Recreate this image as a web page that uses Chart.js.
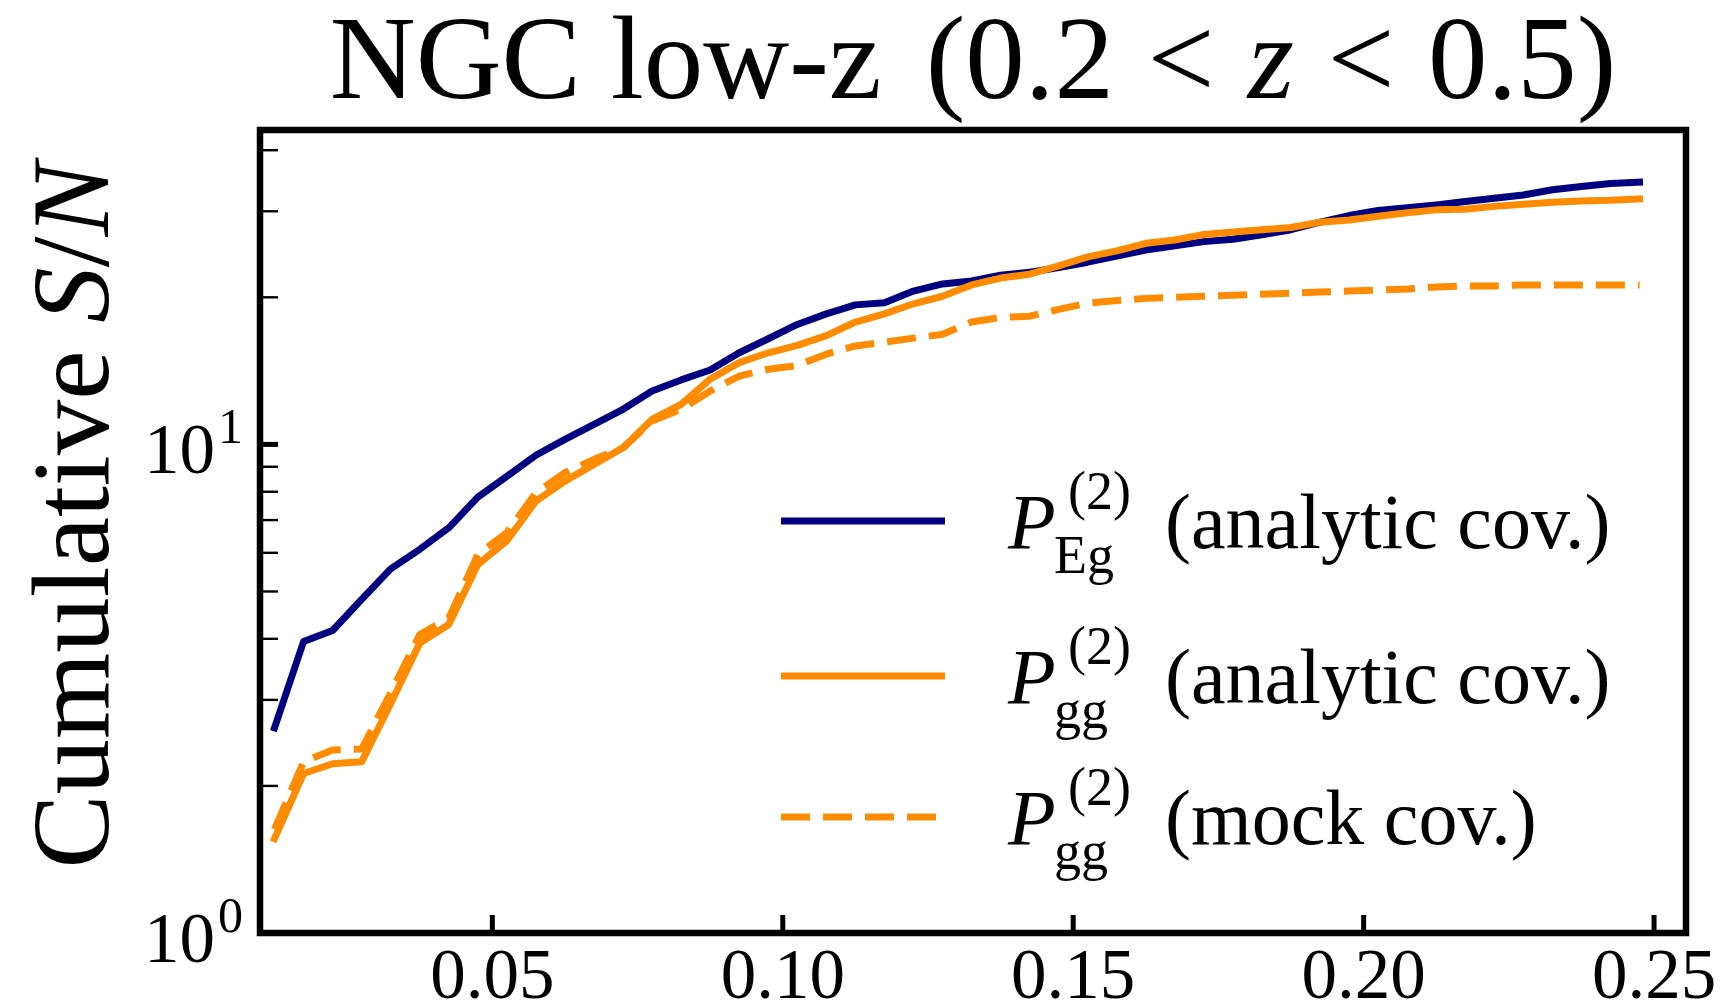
<!DOCTYPE html>
<html>
<head>
<meta charset="utf-8">
<script src="https://cdn.jsdelivr.net/npm/chart.js@4.4.1/dist/chart.umd.min.js"></script>
<style>
html, body { margin: 0; padding: 0; background: #fff; }
#wrap { width: 1727px; height: 1008px; }
</style>
</head>
<body>
<div id="wrap"><canvas id="c" width="1727" height="1008"></canvas></div>
<script>
// k bins (h/Mpc)
const kValues = [0.0125, 0.0175, 0.0225, 0.0275, 0.0325, 0.0375, 0.0425, 0.0475, 0.0525, 0.0575,
    0.0625, 0.0675, 0.0725, 0.0775, 0.0825, 0.0875, 0.0925, 0.0975, 0.1025, 0.1075,
    0.1125, 0.1175, 0.1225, 0.1275, 0.1325, 0.1375, 0.1425, 0.1475, 0.1525, 0.1575,
    0.1625, 0.1675, 0.1725, 0.1775, 0.1825, 0.1875, 0.1925, 0.1975, 0.2025, 0.2075,
    0.2125, 0.2175, 0.2225, 0.2275, 0.2325, 0.2375, 0.2425, 0.2475];

// cumulative S/N
const snEgAnalytic = [2.63, 3.95, 4.16, 4.82, 5.56, 6.1, 6.75, 7.8, 8.6, 9.5,
    10.24, 10.99, 11.8, 12.86, 13.55, 14.2, 15.4, 16.45, 17.6, 18.5,
    19.3, 19.5, 20.6, 21.3, 21.6, 22.2, 22.5, 23.0, 23.6, 24.3,
    25.0, 25.5, 26.0, 26.3, 26.85, 27.5, 28.5, 29.4, 30.1, 30.5,
    30.9, 31.4, 31.9, 32.4, 33.2, 33.7, 34.2, 34.4];
const snGgAnalytic = [1.56, 2.12, 2.22, 2.24, 2.95, 3.92, 4.28, 5.68, 6.35, 7.65,
    8.41, 9.1, 9.84, 11.25, 12.08, 13.6, 14.7, 15.4, 15.95, 16.7,
    17.8, 18.5, 19.4, 20.1, 21.2, 21.9, 22.3, 23.2, 24.2, 24.9,
    25.8, 26.2, 26.9, 27.2, 27.5, 27.8, 28.5, 28.8, 29.3, 29.8,
    30.2, 30.3, 30.7, 31.0, 31.3, 31.5, 31.6, 31.8];
const snGgMock = [1.63, 2.24, 2.37, 2.38, 3.1, 4.08, 4.41, 5.95, 6.6, 7.96,
    8.75, 9.32, 9.84, 11.16, 11.8, 12.86, 13.8, 14.25, 14.5, 15.3,
    15.9, 16.2, 16.5, 16.8, 17.8, 18.2, 18.3, 18.9, 19.45, 19.7,
    19.9, 20.0, 20.1, 20.2, 20.3, 20.4, 20.5, 20.6, 20.7, 20.8,
    21.0, 21.1, 21.1, 21.2, 21.2, 21.2, 21.2, 21.2];

const xTicks = [0.05, 0.10, 0.15, 0.20, 0.25];
const yMajorTicks = [1, 10];
const yMinorTicks = [2, 3, 4, 5, 6, 7, 8, 9, 20, 30, 40];

const legendRows = [
    { sub: 'Eg', text: '(analytic cov.)', color: '#000080', dash: [] },
    { sub: 'gg', text: '(analytic cov.)', color: '#ff8c00', dash: [] },
    { sub: 'gg', text: '(mock cov.)', color: '#ff8c00', dash: [29, 13] }
];

const SERIF = '"Liberation Serif"';
const font = (size, italic) => (italic ? 'italic ' : '') + size + 'px ' + SERIF;
const LW = 7;

function toPoints(vals) {
    return kValues.map((k, i) => ({ x: k, y: vals[i] }));
}

// text runs with mixed upright / italic
function runsWidth(ctx, runs) {
    let w = 0;
    runs.forEach(r => {
        if (r.gap) { w += r.gap; return; }
        ctx.font = r.f; w += ctx.measureText(r.t).width;
    });
    return w;
}
function drawRuns(ctx, runs, x, y) {
    runs.forEach(r => {
        if (r.gap) { x += r.gap; return; }
        ctx.font = r.f;
        ctx.fillText(r.t, x, y);
        x += ctx.measureText(r.t).width;
    });
    return x;
}

function seg(ctx, x1, y1, x2, y2) {
    ctx.beginPath(); ctx.moveTo(x1, y1); ctx.lineTo(x2, y2); ctx.stroke();
}

const decor = {
    id: 'decor',
    afterDraw(chart) {
        const ctx = chart.ctx, a = chart.chartArea;
        const xs = chart.scales.x, ys = chart.scales.y;
        ctx.save();
        ctx.strokeStyle = '#000';
        ctx.fillStyle = '#000';
        ctx.lineCap = 'butt';

        // inward ticks
        ctx.lineWidth = 5;
        xTicks.forEach(v => {
            const px = xs.getPixelForValue(v);
            seg(ctx, px, a.bottom, px, a.bottom - 18);
        });
        yMajorTicks.forEach(v => {
            const py = ys.getPixelForValue(v);
            seg(ctx, a.left, py, a.left + 18, py);
        });
        ctx.lineWidth = 2.4;
        yMinorTicks.forEach(v => {
            const py = ys.getPixelForValue(v);
            seg(ctx, a.left, py, a.left + 18, py);
        });

        // frame
        ctx.lineWidth = 6.5;
        ctx.strokeRect(a.left, a.top, a.right - a.left, a.bottom - a.top);

        // y tick labels 10^n
        ctx.textBaseline = 'alphabetic';
        ctx.textAlign = 'right';
        yMajorTicks.forEach(v => {
            const py = ys.getPixelForValue(v);
            const e = String(Math.round(Math.log10(v)));
            ctx.font = font(50);
            const ew = ctx.measureText(e).width;
            ctx.fillText(e, a.left - 17, py - 1);
            ctx.font = font(71);
            ctx.fillText('10', a.left - 17 - ew - 3, py + 29);
        });
        ctx.textAlign = 'left';

        // title
        const T = 119, th = 0.28 * T;
        const titleRuns = [
            { t: 'NGC low-z ', f: font(T) }, { gap: 0.12 * T },
            { t: '(0.2', f: font(T) }, { gap: th }, { t: '<', f: font(T) }, { gap: th },
            { t: 'z', f: font(T, true) }, { gap: th }, { t: '<', f: font(T) }, { gap: th },
            { t: '0.5)', f: font(T) }
        ];
        const tw = runsWidth(ctx, titleRuns);
        drawRuns(ctx, titleRuns, (a.left + a.right) / 2 - tw / 2, 98);

        // y axis label
        const L = 111;
        const labRuns = [
            { t: 'Cumulative ', f: font(L) },
            { t: 'S', f: font(L, true) }, { t: '/', f: font(L) }, { t: 'N', f: font(L, true) }
        ];
        const lw = runsWidth(ctx, labRuns);
        ctx.save();
        ctx.translate(108, (a.top + a.bottom) / 2 - 16);
        ctx.rotate(-Math.PI / 2);
        drawRuns(ctx, labRuns, -lw / 2, 0);
        ctx.restore();

        // legend
        const rowY = [521, 676, 817];
        legendRows.forEach((r, i) => {
            const y = rowY[i];
            ctx.strokeStyle = r.color;
            ctx.lineWidth = LW;
            ctx.setLineDash(r.dash);
            seg(ctx, 781, y, 945, y);
            ctx.setLineDash([]);
            ctx.fillStyle = '#000';
            ctx.font = font(78, true);
            ctx.fillText('P', 1008, y + 27);
            ctx.font = font(54);
            ctx.fillText('(2)', 1068, y - 12);
            ctx.fillText(r.sub, 1054, y + 52);
            ctx.font = font(78);
            ctx.fillText(r.text, 1165, y + 27);
        });
        ctx.restore();
    }
};

new Chart(document.getElementById('c'), {
    type: 'line',
    data: {
        datasets: [
            { data: toPoints(snEgAnalytic), borderColor: '#000080', order: 3 },
            { data: toPoints(snGgAnalytic), borderColor: '#ff8c00', order: 2 },
            { data: toPoints(snGgMock), borderColor: '#ff8c00', borderDash: [29, 13], borderCapStyle: 'butt', order: 1 }
        ].map(d => ({ borderWidth: LW, pointRadius: 0, fill: false, tension: 0, borderJoinStyle: 'round', borderCapStyle: 'square', ...d }))
    },
    options: {
        responsive: false,
        animation: false,
        devicePixelRatio: 1,
        layout: { padding: { top: 130, right: 41, left: 0, bottom: 0 } },
        plugins: { legend: { display: false }, tooltip: { enabled: false }, title: { display: false } },
        scales: {
            x: {
                type: 'linear', min: 0.01, max: 0.2555,
                grid: { display: false, drawTicks: false }, border: { display: false },
                afterBuildTicks: s => { s.ticks = xTicks.map(v => ({ value: v })); },
                afterFit: s => { s.height = 75; },
                ticks: {
                    autoSkip: false, maxRotation: 0, padding: 4, color: '#000',
                    font: { family: 'Liberation Serif', size: 71 },
                    callback: v => v.toFixed(2)
                }
            },
            y: {
                type: 'logarithmic', min: 1, max: 44,
                grid: { display: false, drawTicks: false }, border: { display: false },
                afterBuildTicks: s => { s.ticks = yMajorTicks.map(v => ({ value: v })); },
                afterFit: s => { s.width = 260; },
                ticks: { display: false }
            }
        }
    },
    plugins: [decor]
});
</script>
</body>
</html>
